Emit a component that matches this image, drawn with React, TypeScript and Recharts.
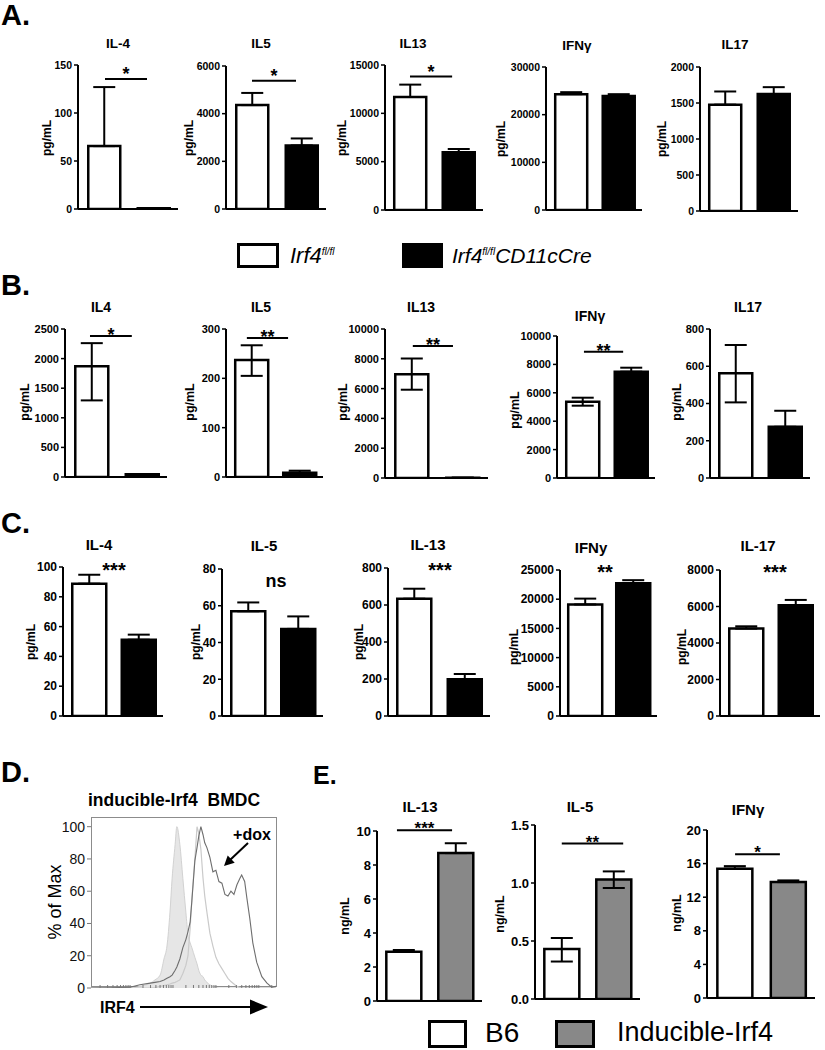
import React from 'react';
import { BarChart, Bar, XAxis, YAxis, ErrorBar, Cell, ReferenceLine, ComposedChart, Area, Line } from 'recharts';

const FONT = '"Liberation Sans", Arial, Helvetica, sans-serif';

// ---------------- Panel A ----------------
const aTitles = ['IL-4', 'IL5', 'IL13', 'IFNγ', 'IL17'];
const aTicks = [[0, 50, 100, 150], [0, 2000, 4000, 6000], [0, 5000, 10000, 15000], [0, 10000, 20000, 30000], [0, 500, 1000, 1500, 2000]];
const aFlox = [65.5, 4360, 11690, 24300, 1477];
const aFloxLow = [65.5, 4360, 11690, 24300, 1477];
const aFloxHigh = [127, 4870, 12970, 24720, 1660];
const aCre = [0.7, 2667, 5965, 23890, 1624];
const aCreLow = [0.7, 2667, 5965, 23890, 1624];
const aCreHigh = [0.7, 2960, 6310, 24300, 1720];
const aSig = ['*', '*', '*', '', ''];
const aSigLevel = [135.5, 5380, 13800, 0, 0];

// ---------------- Panel B ----------------
const bTitles = ['IL4', 'IL5', 'IL13', 'IFNγ', 'IL17'];
const bTicks = [[0, 500, 1000, 1500, 2000, 2500], [0, 100, 200, 300], [0, 2000, 4000, 6000, 8000, 10000], [0, 2000, 4000, 6000, 8000, 10000], [0, 200, 400, 600, 800]];
const bFlox = [1872, 237, 6960, 5373, 562];
const bFloxLow = [1294, 205, 5925, 5092, 406];
const bFloxHigh = [2261, 267, 8020, 5655, 714];
const bCre = [45, 8.7, 20, 7486, 275];
const bCreLow = [45, 8.7, 20, 7486, 275];
const bCreHigh = [45, 12.8, 20, 7768, 361];
const bSig = ['*', '**', '**', '**', ''];
const bSigLevel = [2382, 282, 8860, 8894, 0];

// ---------------- Panel C ----------------
const cTitles = ['IL-4', 'IL-5', 'IL-13', 'IFNy', 'IL-17'];
const cTicks = [[0, 20, 40, 60, 80, 100], [0, 20, 40, 60, 80], [0, 200, 400, 600, 800], [0, 5000, 10000, 15000, 20000, 25000], [0, 2000, 4000, 6000, 8000]];
const cFlox = [88.8, 57, 634, 19100, 4790];
const cFloxHigh = [94.8, 61.8, 688, 20100, 4915];
const cCre = [51.2, 47.4, 198, 22750, 6070];
const cCreHigh = [54.6, 54.2, 227, 23260, 6360];
const cSig = ['***', 'ns', '***', '**', '***'];
const cSigLevel = [98.3, 73.8, 792, 24740, 7918];

// ---------------- Panel D (histogram, log10 IRF4 vs % of max) ----------------
const histLog = [1.09, 1.53, 2.0, 2.23, 2.47, 2.58, 2.7, 2.79, 2.86, 2.93, 2.98, 3.05, 3.09, 3.16, 3.23, 3.3, 3.35, 3.4, 3.44, 3.51, 3.56, 3.6, 3.65, 3.7, 3.74, 3.79, 3.86, 3.93, 4.0, 4.07, 4.14, 4.21, 4.28, 4.35, 4.42, 4.49, 4.56, 4.6, 4.67, 4.72, 4.79, 4.86, 4.95, 5.07, 5.19, 5.3, 5.4];
const histIsotype = [0, 0, 0, 1, 3, 5, 8, 18, 26, 47, 68, 89, 100, 89, 68, 47, 33, 28, 25, 19, 15, 11, 8, 7, 5, 3.5, 2, 1, 0.5, 0, 0, 0, 0, 0, 0, 0, 0, 0, 0, 0, 0, 0, 0, 0, 0, 0, 0];
const histNoDox = [0, 0, 0, 0, 0, 0.3, 1, 1.5, 2, 2.5, 3, 3.5, 4, 5, 9, 14, 20, 37, 55, 80, 100, 96, 86, 68, 57, 47, 34, 26, 19, 15, 12, 9, 6, 4, 2.5, 1, 0.3, 0, 0, 0, 0, 0, 0, 0, 0, 0, 0];
const histDox = [0, 0.2, 0.5, 2, 3, 3.5, 4, 5, 6, 7, 8, 11, 13, 18, 25, 30, 35, 41, 54, 79, 87, 94, 100, 95, 90, 87, 81, 72, 73, 66, 65, 58, 57, 60, 58, 64, 68, 70, 66, 56, 43, 28, 16, 7, 3, 0.5, 1];
const histPctTicks = [0, 20, 40, 60, 80, 100];
const histDecades = [1, 2, 3, 4, 5];
const histMinor = [1, 2, 3, 4, 5, 6, 7, 8, 9];
const histTicks = histDecades.flatMap((d) => histMinor.map((k) => d + Math.log10(k))).filter((t) => t >= 1.1 && t <= 5.39);

// ---------------- Panel E ----------------
const eTitles = ['IL-13', 'IL-5', 'IFNγ'];
const eTicks = [[0, 2, 4, 6, 8, 10], [0, 0.5, 1, 1.5], [0, 4, 8, 12, 16, 20]];
const eB6 = [2.9, 0.43, 15.4];
const eB6Low = [2.9, 0.323, 15.4];
const eB6High = [3.0, 0.526, 15.7];
const eInd = [8.7, 1.03, 13.8];
const eIndLow = [8.7, 0.957, 13.8];
const eIndHigh = [9.28, 1.1, 14.0];
const eSig = ['***', '**', '*'];
const eSigLevel = [10.05, 1.34, 17.1];

// group positions on the x axis (0..2 spans the axis)
const groupPos = [0.52, 1.51];

// ---------------- layout (pixel geometry) ----------------
type Layout = {
  axisX: number[]; right: number[]; top: number[]; zero: number[];
  titleX: number[]; titleY: number[]; labelX: number[]; labelY: number[];
  sigFrom: number[]; sigTo: number[];
};
const aLayout: Layout = {
  axisX: [78, 226, 385, 546, 700], right: [178, 326, 483, 642, 798], top: [65, 66, 65, 67, 67], zero: [209, 209, 210, 210, 211],
  titleX: [118, 261, 413, 577, 735], titleY: [44, 44, 44, 46, 45], labelX: [48, 190, 343, 502, 663], labelY: [138, 138, 138, 139, 139],
  sigFrom: [0.54, 0.52, 0.51, 0, 0], sigTo: [1.38, 1.4, 1.37, 0, 0],
};
const bLayout: Layout = {
  axisX: [65, 226, 385, 557, 710], right: [167, 323, 488, 655, 810], top: [329, 329, 329, 336, 329], zero: [477, 477, 478, 478, 478],
  titleX: [101, 261, 421, 590, 748], titleY: [307, 307, 307, 316, 307], labelX: [25, 190, 343, 515, 677], labelY: [402, 402, 402, 410, 402],
  sigFrom: [0.49, 0.43, 0.54, 0.55, 0], sigTo: [1.31, 1.28, 1.32, 1.35, 0],
};
const cLayout: Layout = {
  axisX: [63, 222, 388, 560, 720], right: [163, 323, 490, 657, 820], top: [567, 569, 568, 570, 570], zero: [716, 716, 716, 716, 716],
  titleX: [99, 264, 428, 591, 758], titleY: [545, 546, 545, 548, 546], labelX: [32, 197, 360, 515, 683], labelY: [642, 642, 642, 647, 647],
  sigFrom: [0.72, 0.77, 0.72, 0.63, 0.8], sigTo: [1.32, 1.37, 1.32, 1.23, 1.4],
};
const eLayout: Layout = {
  axisX: [377, 535, 707], right: [482, 640, 815], top: [831, 825, 830], zero: [1001, 999, 998],
  titleX: [420, 580, 748], titleY: [807, 807, 810], labelX: [345, 500, 677], labelY: [916, 914, 913],
  sigFrom: [0.38, 0.51, 0.52], sigTo: [1.43, 1.68, 1.35],
};

type Style = {
  tickFont: number; titleFont: number; labelFont: number; sigFont: number; sigOffset: number; barW: number;
  sigLine: boolean; unit: string; fills: [string, string]; fmt?: (v: number) => string;
};

function Txt(props: {
  x: number; y: number; size: number; bold?: boolean; italic?: boolean; align?: 'center' | 'left' | 'right';
  rotate?: number; lh?: number; children: React.ReactNode;
}) {
  const { x, y, size, bold = true, italic = false, align = 'center', rotate = 0, lh = 1.15, children } = props;
  const tx = align === 'center' ? '-50%' : align === 'left' ? '0%' : '-100%';
  return (
    <div
      style={{
        position: 'absolute', left: x, top: y,
        transform: `translate(${tx}, -50%)${rotate ? ` rotate(${rotate}deg)` : ''}`,
        fontSize: size, fontWeight: bold ? 700 : 400, fontStyle: italic ? 'italic' : 'normal',
        whiteSpace: 'nowrap', lineHeight: lh, color: '#000', fontFamily: FONT,
      }}
    >
      {children}
    </div>
  );
}

type MiniProps = {
  axisX: number; right: number; top: number; zero: number; ticks: number[];
  v: number[]; lo: number[]; hi: number[]; sig: string; sigLevel: number; sigFrom: number; sigTo: number; st: Style;
};

function MiniBar(p: MiniProps) {
  const YW = 50, MT = 30, XH = 3, MR = 6, MB = 10;
  const plotW = p.right - p.axisX;
  const plotH = p.zero - p.top;
  const data = groupPos.map((pos, i) => ({ pos, v: p.v[i], err: [p.v[i] - p.lo[i], p.hi[i] - p.v[i]] }));
  const max = p.ticks[p.ticks.length - 1];
  const st = p.st;
  const sigSize = p.sig === 'ns' ? st.sigFont - 2 : st.sigFont;
  return (
    <div style={{ position: 'absolute', left: p.axisX - YW, top: p.top - MT }}>
      <BarChart width={YW + plotW + MR} height={MT + plotH + XH + MB} data={data} margin={{ top: MT, right: MR, left: 0, bottom: MB }}>
        <XAxis type="number" dataKey="pos" domain={[0, 2]} allowDataOverflow tick={false} tickLine={false} axisLine={{ stroke: '#000', strokeWidth: 2 }} height={XH} />
        <YAxis
          width={YW} type="number" domain={[0, max]} ticks={p.ticks} interval={0} allowDataOverflow
          tick={{ fill: '#000', fontSize: st.tickFont, fontWeight: 700, fontFamily: FONT }}
          tickFormatter={st.fmt} tickLine={{ stroke: '#000', strokeWidth: 1.5 }} tickSize={4} tickMargin={2}
          axisLine={{ stroke: '#000', strokeWidth: 2 }}
        />
        <Bar dataKey="v" barSize={st.barW} stroke="#000" strokeWidth={2.5} isAnimationActive={false}>
          {data.map((d, i) => (
            <Cell key={i} fill={st.fills[i]} />
          ))}
          <ErrorBar dataKey="err" width={11} stroke="#000" strokeWidth={2} />
        </Bar>
        {p.sig ? (
          <ReferenceLine
            ifOverflow="visible"
            segment={[{ x: p.sigFrom, y: p.sigLevel }, { x: p.sigTo, y: p.sigLevel }]}
            stroke={st.sigLine ? '#000' : 'none'}
            strokeWidth={2}
            label={{ value: p.sig, position: st.sigLine ? 'top' : 'center', offset: st.sigOffset, fill: '#000', fontSize: sigSize, fontWeight: 700, fontFamily: FONT }}
          />
        ) : null}
      </BarChart>
    </div>
  );
}

function Panel(props: {
  titles: string[]; ticks: number[][];
  g1: number[]; g1Low: number[]; g1High: number[];
  g2: number[]; g2Low: number[]; g2High: number[];
  sig: string[]; sigLevel: number[]; layout: Layout; st: Style;
}) {
  const { titles, ticks, g1, g1Low, g1High, g2, g2Low, g2High, sig, sigLevel, layout: L, st } = props;
  return (
    <>
      {titles.map((t, i) => (
        <React.Fragment key={t + i}>
          <MiniBar
            axisX={L.axisX[i]} right={L.right[i]} top={L.top[i]} zero={L.zero[i]} ticks={ticks[i]}
            v={[g1[i], g2[i]]} lo={[g1Low[i], g2Low[i]]} hi={[g1High[i], g2High[i]]}
            sig={sig[i]} sigLevel={sigLevel[i]} sigFrom={L.sigFrom[i]} sigTo={L.sigTo[i]} st={st}
          />
          <Txt x={L.titleX[i]} y={L.titleY[i]} size={st.titleFont}>{t}</Txt>
          <Txt x={L.labelX[i]} y={L.labelY[i]} size={st.labelFont} rotate={-90}>{st.unit}</Txt>
        </React.Fragment>
      ))}
    </>
  );
}

function Histogram() {
  const data = histLog.map((x, i) => ({ x, iso: histIsotype[i], nodox: histNoDox[i], dox: histDox[i] }));
  return (
    <>
      <div style={{ position: 'absolute', left: 91, top: 817, width: 186, height: 170, border: '1px solid #8c8c8c', boxSizing: 'border-box' }} />
      <div style={{ position: 'absolute', left: 51, top: 806 }}>
        <ComposedChart width={230} height={192} data={data} margin={{ top: 11, right: 5, left: 0, bottom: 10 }}>
          <XAxis type="number" dataKey="x" domain={[1.09, 5.4]} allowDataOverflow ticks={histTicks} interval={0}
            tickFormatter={() => ''} mirror tickSize={3} tickLine={{ stroke: '#777' }} axisLine={false} height={2} />
          <YAxis type="number" domain={[0, 106]} allowDataOverflow ticks={histPctTicks} interval={0} width={40}
            tickSize={4} tickMargin={2} tickLine={{ stroke: '#777' }} axisLine={false}
            tick={{ fill: '#111', fontSize: 14, fontFamily: FONT }} />
          <Area type="monotone" dataKey="iso" stroke="#d2d2d2" strokeWidth={1} fill="#e6e6e6" fillOpacity={1} isAnimationActive={false} dot={false} activeDot={false} />
          <Line type="linear" dataKey="nodox" stroke="#cacaca" strokeWidth={1.2} dot={false} activeDot={false} isAnimationActive={false} />
          <Line type="linear" dataKey="dox" stroke="#6e6e6e" strokeWidth={1.1} dot={false} activeDot={false} isAnimationActive={false} />
        </ComposedChart>
      </div>
    </>
  );
}

const styleA: Style = { tickFont: 10.5, titleFont: 13.5, labelFont: 12, sigFont: 18, sigOffset: -1, barW: 32, sigLine: true, unit: 'pg/mL', fills: ['#fff', '#000'] };
const styleB: Style = { tickFont: 11, titleFont: 14, labelFont: 12.5, sigFont: 18, sigOffset: -5, barW: 33, sigLine: true, unit: 'pg/mL', fills: ['#fff', '#000'] };
const styleC: Style = { tickFont: 12, titleFont: 15, labelFont: 12, sigFont: 20, sigOffset: 0, barW: 34, sigLine: false, unit: 'pg/mL', fills: ['#fff', '#000'] };
const styleE: Style = { tickFont: 13, titleFont: 15, labelFont: 12.5, sigFont: 17, sigOffset: -4, barW: 35, sigLine: true, unit: 'ng/mL', fills: ['#fff', '#888'] };

const eFmt = [(v: number) => String(v), (v: number) => v.toFixed(1), (v: number) => String(v)];

function Box({ x, y, w, h, fill }: { x: number; y: number; w: number; h: number; fill: string }) {
  return <div style={{ position: 'absolute', left: x, top: y, width: w, height: h, background: fill, border: '3px solid #000', boxSizing: 'border-box' }} />;
}

export default function App() {
  return (
    <div style={{ position: 'absolute', left: 0, top: 0, width: 825, height: 1050, background: '#fff', overflow: 'hidden', fontFamily: FONT }}>
      {/* panel letters */}
      <Txt x={1} y={15} size={29} lh={1} align="left">A.</Txt>
      <Txt x={1} y={285} size={29} lh={1} align="left">B.</Txt>
      <Txt x={1} y={523} size={29} lh={1} align="left">C.</Txt>
      <Txt x={1} y={772} size={29} lh={1} align="left">D.</Txt>
      <Txt x={313} y={775} size={25} lh={1} align="left">E.</Txt>

      <Panel titles={aTitles} ticks={aTicks} g1={aFlox} g1Low={aFloxLow} g1High={aFloxHigh} g2={aCre} g2Low={aCreLow} g2High={aCreHigh} sig={aSig} sigLevel={aSigLevel} layout={aLayout} st={styleA} />

      {/* legend A/B */}
      <Box x={237} y={243} w={42} h={25} fill="#fff" />
      <Txt x={290} y={256} size={22} bold={false} italic align="left">
        Irf4<sup style={{ fontSize: 10 }}>fl/fl</sup>
      </Txt>
      <Box x={402} y={243} w={41} h={25} fill="#000" />
      <Txt x={452} y={256} size={21} bold={false} italic align="left">
        Irf4<sup style={{ fontSize: 10 }}>fl/fl</sup>CD11cCre
      </Txt>

      <Panel titles={bTitles} ticks={bTicks} g1={bFlox} g1Low={bFloxLow} g1High={bFloxHigh} g2={bCre} g2Low={bCreLow} g2High={bCreHigh} sig={bSig} sigLevel={bSigLevel} layout={bLayout} st={styleB} />

      <Panel titles={cTitles} ticks={cTicks} g1={cFlox} g1Low={cFlox} g1High={cFloxHigh} g2={cCre} g2Low={cCre} g2High={cCreHigh} sig={cSig} sigLevel={cSigLevel} layout={cLayout} st={styleC} />

      {/* panel D */}
      <Txt x={174} y={800} size={17.5}>inducible-Irf4{'\u00a0\u00a0'}BMDC</Txt>
      <Histogram />
      <Txt x={55} y={902} size={18} bold={false} rotate={-90}>% of Max</Txt>
      <Txt x={100} y={1007.5} size={16} align="left">IRF4</Txt>
      <Txt x={252} y={835} size={16}>+dox</Txt>

      {/* panel E */}
      {eTitles.map((t, i) => (
        <React.Fragment key={t}>
          <MiniBar
            axisX={eLayout.axisX[i]} right={eLayout.right[i]} top={eLayout.top[i]} zero={eLayout.zero[i]} ticks={eTicks[i]}
            v={[eB6[i], eInd[i]]} lo={[eB6Low[i], eIndLow[i]]} hi={[eB6High[i], eIndHigh[i]]}
            sig={eSig[i]} sigLevel={eSigLevel[i]} sigFrom={eLayout.sigFrom[i]} sigTo={eLayout.sigTo[i]}
            st={{ ...styleE, fmt: eFmt[i] }}
          />
          <Txt x={eLayout.titleX[i]} y={eLayout.titleY[i]} size={styleE.titleFont}>{t}</Txt>
          <Txt x={eLayout.labelX[i]} y={eLayout.labelY[i]} size={styleE.labelFont} rotate={-90}>{styleE.unit}</Txt>
        </React.Fragment>
      ))}

      {/* legend E */}
      <Box x={428} y={1020} w={39} h={28} fill="#fff" />
      <Txt x={485} y={1033} size={28} bold={false} align="left">B6</Txt>
      <Box x={555} y={1020} w={40} h={28} fill="#888" />
      <Txt x={617} y={1033} size={27} bold={false} align="left">Inducible-Irf4</Txt>

      {/* annotation arrows */}
      <svg width={825} height={1050} style={{ position: 'absolute', left: 0, top: 0, pointerEvents: 'none' }}>
        <line x1={140} y1={1007} x2={252} y2={1007} stroke="#000" strokeWidth={2} />
        <polygon points="250,999.5 268,1007 250,1014.5" fill="#000" />
        <line x1={248} y1={843} x2={230} y2={860} stroke="#000" strokeWidth={2} />
        <polygon points="224,866 234.7,862.7 227.7,855.5" fill="#000" />
      </svg>
    </div>
  );
}
